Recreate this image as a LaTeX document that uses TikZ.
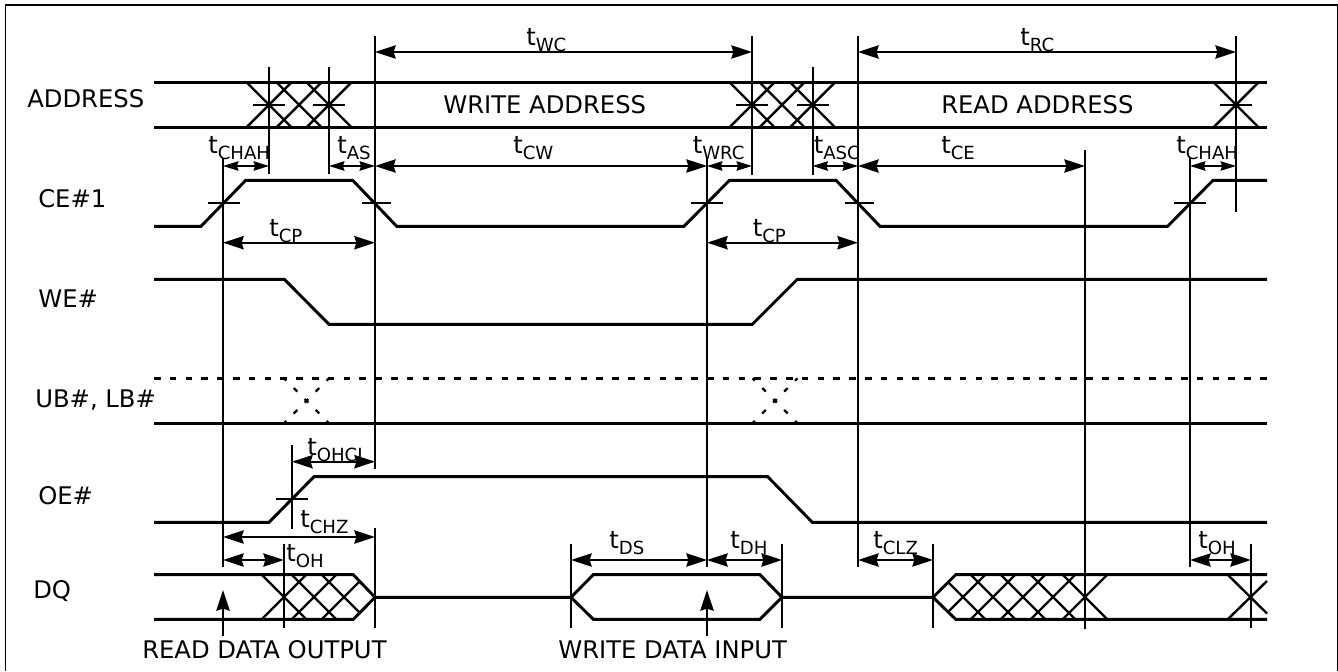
\documentclass[tikz,border=0pt]{standalone}
\usepackage{fontspec}
\setmainfont{DejaVu Sans}
\usetikzlibrary{arrows.meta}
\tikzstyle{sigwave} = [line width=2.2pt, line join=miter]
\tikzstyle{hatch} = [line width=1.8pt]
\tikzstyle{guide} = [line width=1.5pt]
\tikzstyle{dimbig} = [line width=1.3pt, {Stealth[length=15.5pt,width=10pt,inset=1.5pt]}-{Stealth[length=15.5pt,width=10pt,inset=1.5pt]}]
\tikzstyle{dimsmall} = [line width=1.3pt, {Stealth[length=11.5pt,width=7pt,inset=1pt]}-{Stealth[length=11.5pt,width=7pt,inset=1pt]}]
\tikzstyle{pointer} = [line width=1.5pt, -{Stealth[length=15.5pt,width=10pt,inset=1.5pt]}]
\tikzstyle{undef} = [line width=1.7pt, dash pattern=on 3.75pt off 7.875pt, dash phase=1.275pt]
\tikzstyle{siglabel} = [anchor=base west, inner sep=0pt, font=\fontsize{18.2pt}{20pt}\selectfont]
\tikzstyle{tlabel} = [siglabel]
\newcommand{\tsub}[1]{t{\fontsize{13.6pt}{14pt}\selectfont\raisebox{-4.8pt}{#1}}}
\newcommand{\crossx}[2]{\draw [hatch] (#1-22.5,#2-22.5) -- (#1+22.5,#2+22.5); \draw [hatch] (#1-22.5,#2+22.5) -- (#1+22.5,#2-22.5);}
\begin{document}
\begin{tikzpicture}[x=0.75pt, y=-0.75pt]
\useasboundingbox (0,0) rectangle (1338,671);
% frame
\draw [line width=0.8pt] (5.5,671) -- (5.5,5) (1337.5,5) -- (1337.5,671);
\draw [line width=1.6pt] (5,5) -- (1338,5);

% signal names
\node (address) [siglabel] at (27,107) {ADDRESS};
\node (ce) [siglabel] at (38,207) {CE\#1};
\node (we) [siglabel] at (38,307) {WE\#};
\node (ublb) [siglabel] at (35,407) {UB\#, LB\#};
\node (oe) [siglabel] at (38,504) {OE\#};
\node (dq) [siglabel] at (33,598) {DQ};
\node (writeaddr) [siglabel] at (443,113) {WRITE ADDRESS};
\node (readaddr) [siglabel] at (941,113) {READ ADDRESS};
\node (readdata) [siglabel] at (142,658) {READ DATA OUTPUT};
\node (writedata) [siglabel] at (558,658) {WRITE DATA INPUT};

% timing names
\node (twc) [tlabel] at (526,45) {\tsub{WC}};
\node (trc) [tlabel] at (1020,45) {\tsub{RC}};
\node (tchah) [tlabel] at (208,153) {\tsub{CHAH}};
\node (tas) [tlabel] at (337,153) {\tsub{AS}};
\node (tcw) [tlabel] at (513,153) {\tsub{CW}};
\node (twrc) [tlabel] at (692.5,153) {\tsub{WRC}};
\node (tasc) [tlabel] at (813.5,153) {\tsub{ASC}};
\node (tce) [tlabel] at (941,153) {\tsub{CE}};
\node (tchahb) [tlabel] at (1176,153) {\tsub{CHAH}};
\node (tcp) [tlabel] at (269,236) {\tsub{CP}};
\node (tcpb) [tlabel] at (752.5,236) {\tsub{CP}};
\node (tohcl) [tlabel] at (307,455) {\tsub{OHCL}};
\node (tchz) [tlabel] at (300,527.5) {\tsub{CHZ}};
\node (toh) [tlabel] at (286,561.5) {\tsub{OH}};
\node (tds) [tlabel] at (609,548) {\tsub{DS}};
\node (tdh) [tlabel] at (730,548) {\tsub{DH}};
\node (tclz) [tlabel] at (873,548) {\tsub{CLZ}};
\node (tohb) [tlabel] at (1198,548) {\tsub{OH}};

% ADDRESS
\draw [sigwave] (154,82.3) -- (1267,82.3);
\draw [sigwave] (154,127.3) -- (1267,127.3);
\crossx{269}{104.8}
\crossx{299}{104.8}
\crossx{329}{104.8}
\crossx{752}{104.8}
\crossx{782}{104.8}
\crossx{812.5}{104.8}
\crossx{1236}{104.8}

% CE#1, WE#, UB#/LB#, OE#
\draw [sigwave] (154,226.3) -- (201,226.3) -- (245.7,180.3) -- (352.7,180.3) -- (396.7,226.3) -- (684,226.3) -- (729.5,180.3) -- (836,180.3) -- (880,226.3) -- (1167.6,226.3) -- (1213,180.3) -- (1267,180.3);
\draw [sigwave] (154,279.3) -- (284.3,279.3) -- (329,324.3) -- (752.3,324.3) -- (797.3,279.3) -- (1267,279.3);
\draw [sigwave, dash pattern=on 5pt off 6.85pt] (154,378.3) -- (1267,378.3);
\draw [sigwave] (154,423.3) -- (1267,423.3);
\draw [undef] (284,378.3) -- (329,423.3);
\draw [undef] (284,423.3) -- (329,378.3);
\draw [undef] (752.5,378.3) -- (797.5,423.3);
\draw [undef] (752.5,423.3) -- (797.5,378.3);
\draw [sigwave] (154,522.3) -- (269,522.3) -- (314,476.7) -- (767.7,476.7) -- (812.3,522.3) -- (1267,522.3);

% DQ
\draw [sigwave] (154,574.7) -- (353.3,574.7) -- (375,597.3) -- (571,597.3) -- (593.3,574.7) -- (760,574.7) -- (782,597.3) -- (933,597.3) -- (955.7,574.7) -- (1267,574.7);
\draw [sigwave] (154,619.3) -- (353.3,619.3) -- (375,597.3);
\draw [sigwave] (571,597.3) -- (593.3,619.3) -- (760,619.3) -- (782,597.3);
\draw [sigwave] (933,597.3) -- (955.7,619.3) -- (1267,619.3);
\crossx{284}{597}
\crossx{314}{597}
\draw [hatch] (322,575) -- (359.5,612.5);
\draw [hatch] (322,619) -- (359.5,581.5);
\draw [hatch] (948,582) -- (985,619);
\draw [hatch] (948,612) -- (985,575);
\crossx{993}{597}
\crossx{1023}{597}
\crossx{1053}{597}
\crossx{1085}{597}
\draw [hatch] (1228,575) -- (1267,613.5);
\draw [hatch] (1228,619) -- (1267,581);

% guide lines
\draw [guide] (223,158) -- (223,567);
\draw [guide] (269,67) -- (269,174);
\draw [guide] (284,544) -- (284,628);
\draw [guide] (292,445) -- (292,529);
\draw [guide] (329,67) -- (329,174);
\draw [guide] (375,36) -- (375,469);
\draw [guide] (375,528) -- (375,628);
\draw [guide] (571,544) -- (571,628);
\draw [guide] (707,158) -- (707,567);
\draw [guide] (752,36) -- (752,175);
\draw [guide] (782,544) -- (782,628);
\draw [guide] (812.5,67) -- (812.5,175);
\draw [guide] (858,36) -- (858,567);
\draw [guide] (933,544) -- (933,628);
\draw [guide] (1085,150) -- (1085,629);
\draw [guide] (1190,157) -- (1190,567);
\draw [guide] (1236,36) -- (1236,212);
\draw [guide] (1251,544) -- (1251,628);

% crossing ticks
\draw [guide] (253,104.8) -- (285,104.8);
\draw [guide] (313,104.8) -- (345,104.8);
\draw [guide] (736,104.8) -- (768,104.8);
\draw [guide] (797,104.8) -- (829,104.8);
\draw [guide] (1220,104.8) -- (1252,104.8);
\draw [guide] (208,203) -- (240,203);
\draw [guide] (362,203) -- (391,203);
\draw [guide] (691,203) -- (723,203);
\draw [guide] (845,203) -- (874,203);
\draw [guide] (1174,203) -- (1206,203);
\draw [guide] (276,499) -- (307.7,499);

% timing arrows
\coordinate (wcl) at (375,52); \coordinate (wcr) at (752,52);
\coordinate (rcl) at (858,52); \coordinate (rcr) at (1236,52);
\coordinate (cwl) at (375,166); \coordinate (cwr) at (707,166);
\coordinate (cel) at (858,166); \coordinate (cer) at (1085,166);
\coordinate (cpl) at (223,242.7); \coordinate (cpr) at (375,242.7);
\coordinate (cpbl) at (707,242.7); \coordinate (cpbr) at (858,242.7);
\coordinate (ohcll) at (292,461.7); \coordinate (ohclr) at (375,461.7);
\coordinate (chzl) at (223,537); \coordinate (chzr) at (375,537);
\coordinate (ohl) at (223,560); \coordinate (ohr) at (284,560);
\coordinate (dsl) at (571,560); \coordinate (dsr) at (707,560);
\coordinate (dhl) at (707,560); \coordinate (dhr) at (782,560);
\coordinate (clzl) at (858,560); \coordinate (clzr) at (933,560);
\coordinate (ohbl) at (1190,560); \coordinate (ohbr) at (1251,560);
\coordinate (chahl) at (223,166); \coordinate (chahr) at (269,166);
\coordinate (asl) at (329,166); \coordinate (asr) at (375,166);
\coordinate (wrcl) at (707,166); \coordinate (wrcr) at (752,166);
\coordinate (ascl) at (812.5,166); \coordinate (ascr) at (858,166);
\coordinate (chahbl) at (1190,166); \coordinate (chahbr) at (1236,166);
\draw [dimbig] (wcl) -- (wcr);
\draw [dimbig] (rcl) -- (rcr);
\draw [dimbig] (cwl) -- (cwr);
\draw [dimbig] (cel) -- (cer);
\draw [dimbig] (cpl) -- (cpr);
\draw [dimbig] (cpbl) -- (cpbr);
\draw [dimbig] (ohcll) -- (ohclr);
\draw [dimbig] (chzl) -- (chzr);
\draw [dimbig] (ohl) -- (ohr);
\draw [dimbig] (dsl) -- (dsr);
\draw [dimbig] (dhl) -- (dhr);
\draw [dimbig] (clzl) -- (clzr);
\draw [dimbig] (ohbl) -- (ohbr);
\draw [dimsmall] (chahl) -- (chahr);
\draw [dimsmall] (asl) -- (asr);
\draw [dimsmall] (wrcl) -- (wrcr);
\draw [dimsmall] (ascl) -- (ascr);
\draw [dimsmall] (chahbl) -- (chahbr);

% pointers to the data
\coordinate (readtail) at (223,636); \coordinate (readtip) at (223,590);
\coordinate (writetail) at (707,636); \coordinate (writetip) at (707,590);
\draw [pointer] (readtail) -- (readtip);
\draw [pointer] (writetail) -- (writetip);
\end{tikzpicture}
\end{document}
